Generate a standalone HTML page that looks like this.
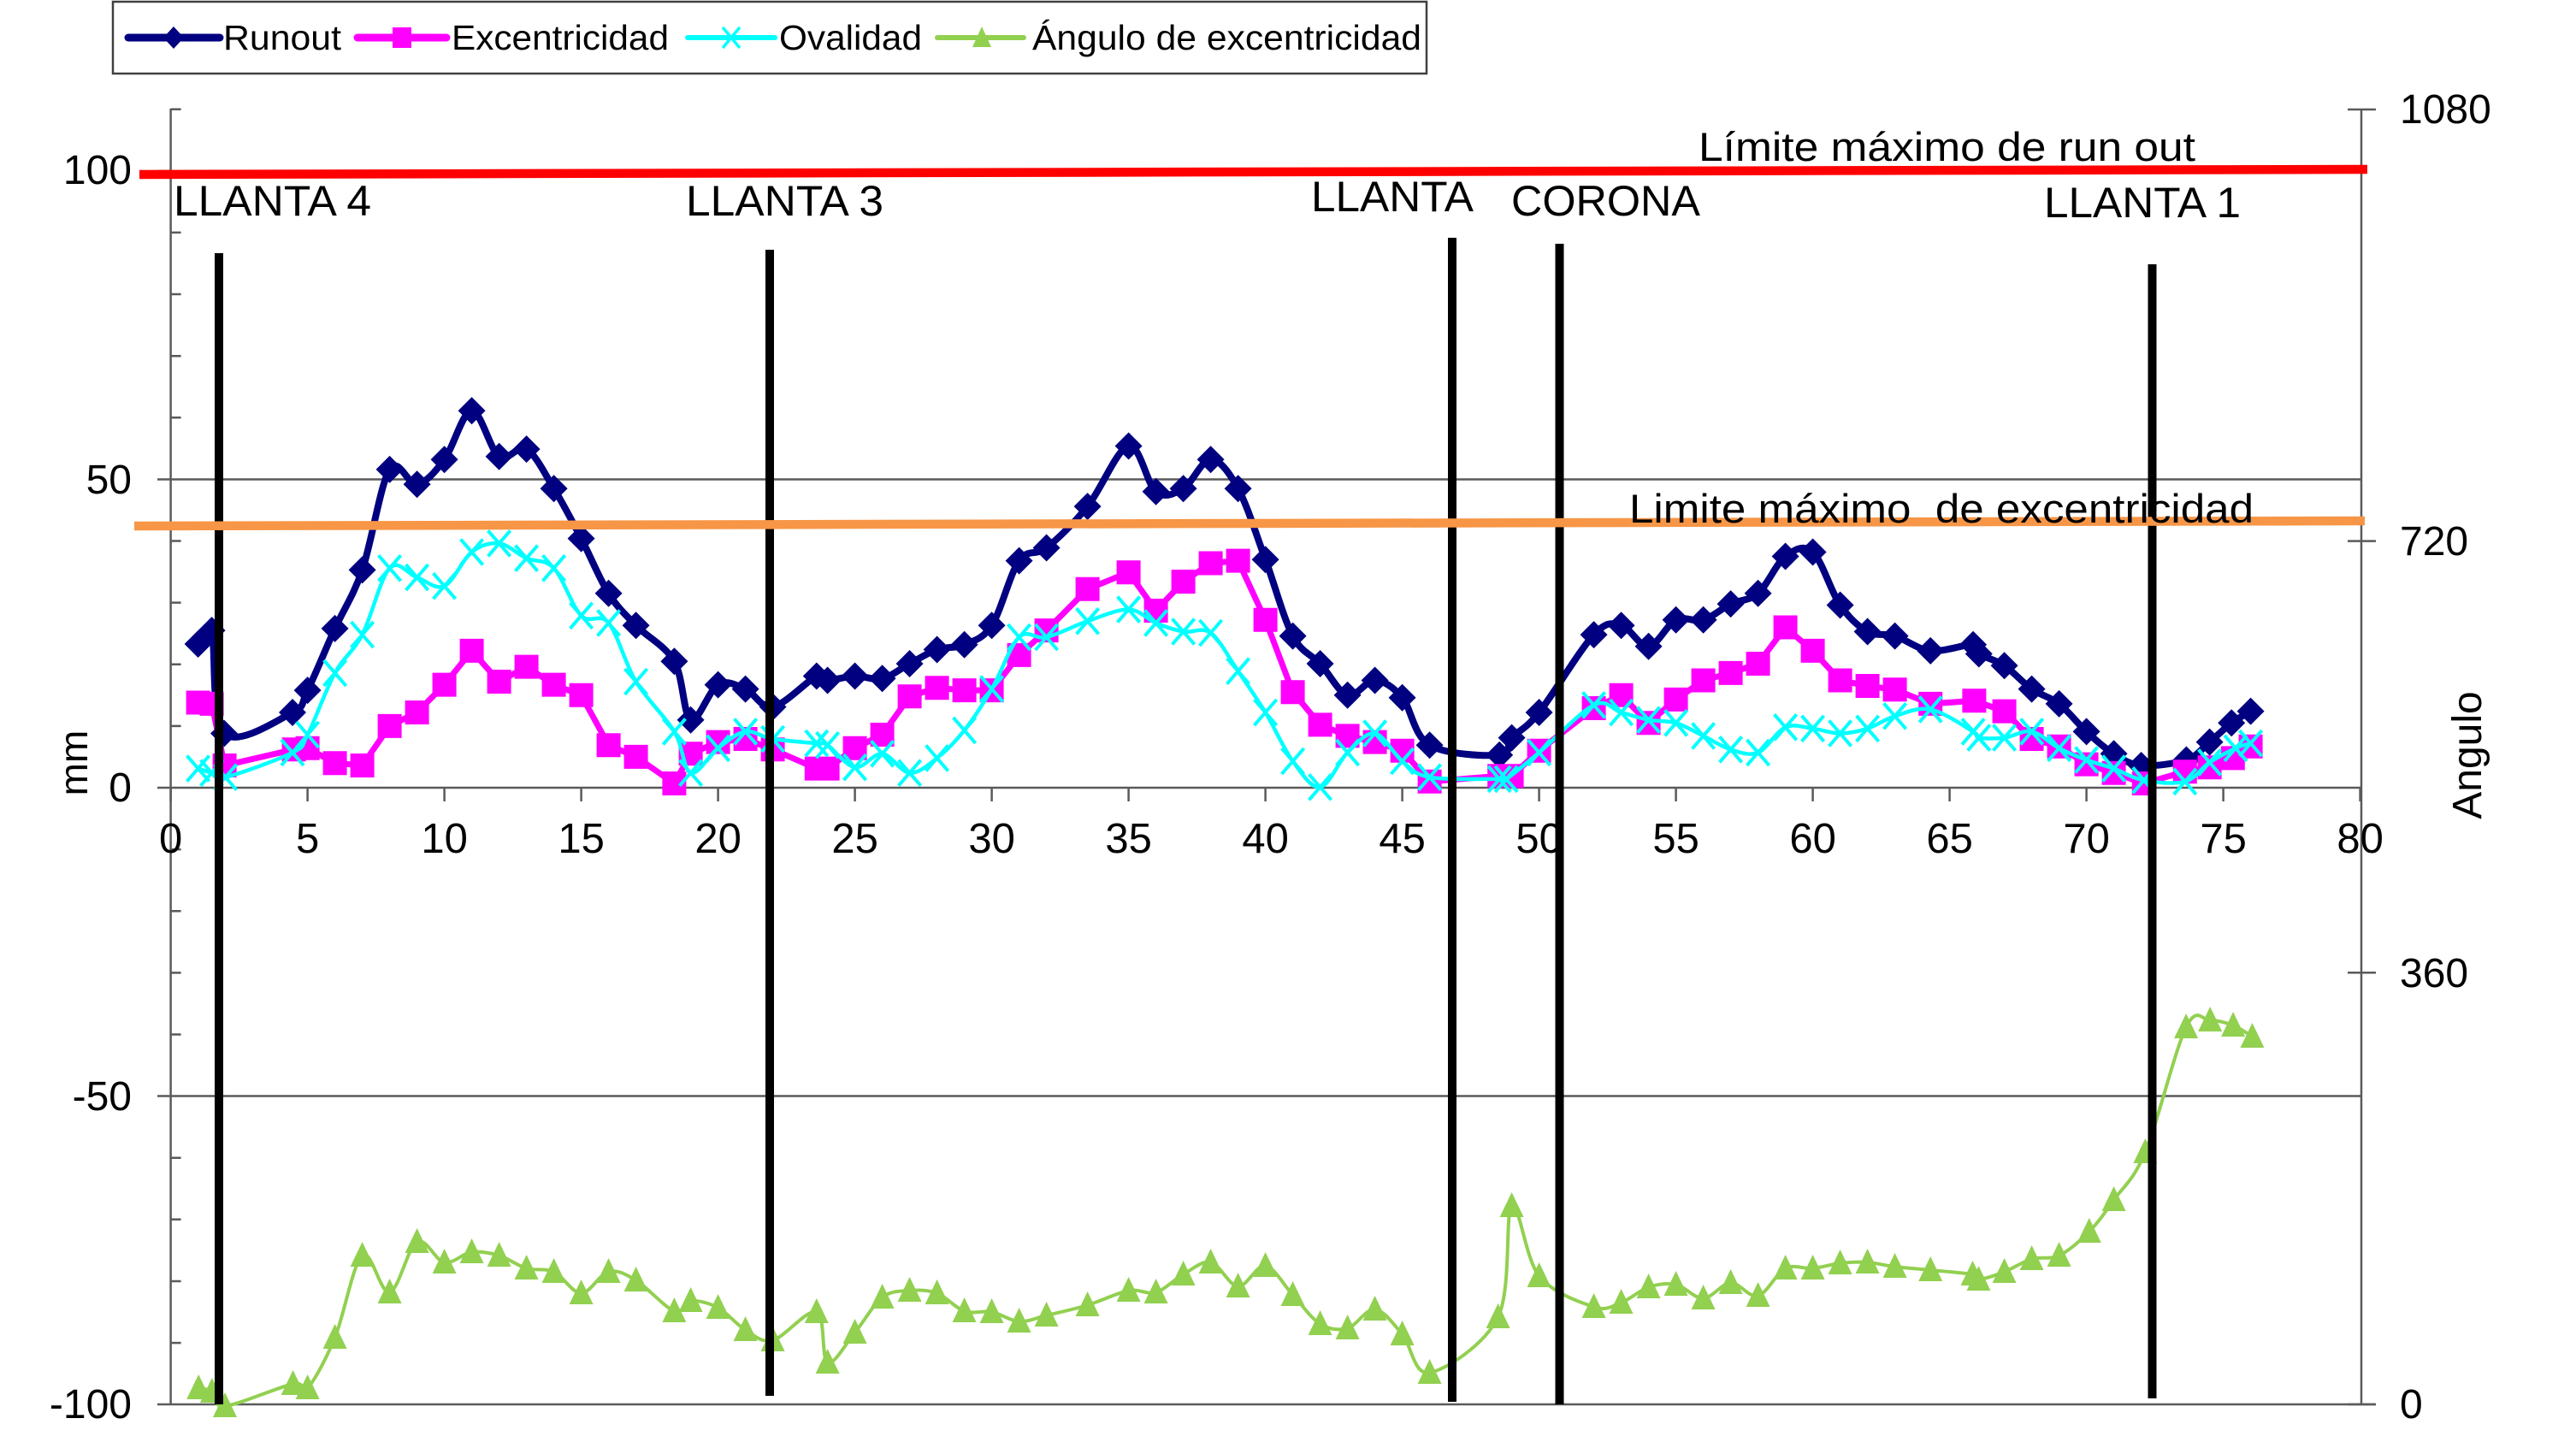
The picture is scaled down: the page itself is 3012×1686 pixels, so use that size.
<!DOCTYPE html>
<html><head><meta charset="utf-8">
<style>
html,body{margin:0;padding:0;background:#fff;}
svg{display:block;}
text{font-family:"Liberation Sans",Arial,sans-serif;fill:#000;}
</style></head><body>
<svg xmlns="http://www.w3.org/2000/svg" width="3012" height="1686" viewBox="0 0 3012 1686">
<rect width="3012" height="1686" fill="#fff"/>

<!-- Legend -->
<rect x="132" y="2" width="1536" height="84" fill="#fff" stroke="#404040" stroke-width="2.5"/>
<line x1="150" y1="44" x2="257" y2="44" stroke="#000080" stroke-width="9" stroke-linecap="round"/>
<path d="M203,31 L215,44 L203,57 L191,44 Z" fill="#000080"/>
<text x="261" y="58" font-size="41" textLength="138" lengthAdjust="spacingAndGlyphs">Runout</text>
<line x1="418" y1="44" x2="522" y2="44" stroke="#FF00FF" stroke-width="9" stroke-linecap="round"/>
<rect x="459" y="32" width="22" height="24" fill="#FF00FF"/>
<text x="528" y="58" font-size="41" textLength="254" lengthAdjust="spacingAndGlyphs">Excentricidad</text>
<line x1="804" y1="44" x2="906" y2="44" stroke="#00FFFF" stroke-width="6" stroke-linecap="round"/>
<path d="M845,32 L865,56 M865,32 L845,56" stroke="#00FFFF" stroke-width="3.5"/>
<text x="911" y="58" font-size="41" textLength="167" lengthAdjust="spacingAndGlyphs">Ovalidad</text>
<line x1="1096" y1="44" x2="1197" y2="44" stroke="#92D050" stroke-width="6" stroke-linecap="round"/>
<path d="M1148,31 L1159,55 L1137,55 Z" fill="#92D050"/>
<text x="1207" y="58" font-size="41" textLength="455" lengthAdjust="spacingAndGlyphs">Ángulo de excentricidad</text>

<!-- Gridlines & axes -->
<g stroke="#5a5a5a" stroke-width="2.5" fill="none">
<line x1="184" y1="560.5" x2="2761" y2="560.5"/>
<line x1="184" y1="921" x2="2761" y2="921"/>
<line x1="184" y1="1281.5" x2="2761" y2="1281.5"/>
<line x1="184" y1="1642" x2="2778" y2="1642"/>
<line x1="184" y1="200" x2="200" y2="200"/>
<line x1="199.6" y1="127" x2="199.6" y2="1642"/>
<line x1="2761" y1="127" x2="2761" y2="1642"/>
<path d="M199.6,127.7h12 M199.6,271.9h12 M199.6,344h12 M199.6,416.2h12 M199.6,488.3h12 M199.6,632.5h12 M199.6,704.6h12 M199.6,776.8h12 M199.6,848.9h12 M199.6,993.1h12 M199.6,1065.2h12 M199.6,1137.4h12 M199.6,1209.5h12 M199.6,1353.7h12 M199.6,1425.8h12 M199.6,1498h12 M199.6,1570.1h12"/>
<path d="M2745,128h33 M2745,632.6h33 M2745,1137.3h33 M2745,1642h33"/>
<path d="M199.6,921v16 M359.6,921v16 M519.6,921v16 M679.6,921v16 M839.6,921v16 M999.6,921v16 M1159.6,921v16 M1319.6,921v16 M1479.6,921v16 M1639.6,921v16 M1799.6,921v16 M1959.6,921v16 M2119.6,921v16 M2279.6,921v16 M2439.6,921v16 M2599.6,921v16 M2759.6,921v16"/>
</g>

<!-- Axis labels -->
<g font-size="48" text-anchor="end">
<text x="154" y="215">100</text>
<text x="154" y="577">50</text>
<text x="154" y="937">0</text>
<text x="154" y="1298">-50</text>
<text x="154" y="1658">-100</text>
</g>
<g font-size="48" text-anchor="start">
<text x="2806" y="144">1080</text>
<text x="2806" y="649">720</text>
<text x="2806" y="1154">360</text>
<text x="2806" y="1658">0</text>
</g>
<g font-size="49" text-anchor="middle">
<text x="199.6" y="997">0</text>
<text x="359.6" y="997">5</text>
<text x="519.6" y="997">10</text>
<text x="679.6" y="997">15</text>
<text x="839.6" y="997">20</text>
<text x="999.6" y="997">25</text>
<text x="1159.6" y="997">30</text>
<text x="1319.6" y="997">35</text>
<text x="1479.6" y="997">40</text>
<text x="1639.6" y="997">45</text>
<text x="1799.6" y="997">50</text>
<text x="1959.6" y="997">55</text>
<text x="2119.6" y="997">60</text>
<text x="2279.6" y="997">65</text>
<text x="2439.6" y="997">70</text>
<text x="2599.6" y="997">75</text>
<text x="2759.6" y="997">80</text>
</g>
<text transform="translate(102,892) rotate(-90)" font-size="46" text-anchor="middle">mm</text>
<text transform="translate(2901,883) rotate(-90)" font-size="48" text-anchor="middle">Angulo</text>

<!-- Series (generated) -->
<g id="series"></g>

<!-- Vertical black section lines -->
<g stroke="#000" stroke-width="10">
<line x1="256" y1="296" x2="256" y2="1642"/>
<line x1="900" y1="292" x2="900" y2="1632"/>
<line x1="1698" y1="278" x2="1698" y2="1639"/>
<line x1="1823.5" y1="285" x2="1823.5" y2="1642"/>
<line x1="2516.5" y1="309" x2="2516.5" y2="1635"/>
</g>

<!-- Limit lines -->
<line x1="157" y1="615" x2="2765" y2="609" stroke="#F79646" stroke-width="10.5"/>
<line x1="163" y1="204" x2="2768" y2="198" stroke="#FF0000" stroke-width="10.5"/>

<!-- Annotations -->
<g font-size="50">
<text x="203" y="252" textLength="231" lengthAdjust="spacingAndGlyphs">LLANTA 4</text>
<text x="802" y="252" textLength="231" lengthAdjust="spacingAndGlyphs">LLANTA 3</text>
<text x="1533" y="247" textLength="190" lengthAdjust="spacingAndGlyphs">LLANTA</text>
<text x="1767" y="252" textLength="221" lengthAdjust="spacingAndGlyphs">CORONA</text>
<text x="2390" y="254" textLength="230" lengthAdjust="spacingAndGlyphs">LLANTA 1</text>
</g>
<text x="1986" y="188" font-size="47" textLength="581" lengthAdjust="spacingAndGlyphs">Límite máximo de run out</text>
<text x="1905" y="611" font-size="47" xml:space="preserve" textLength="730" lengthAdjust="spacingAndGlyphs">Limite máximo  de excentricidad</text>
</svg>

<script>
(function(){
var NS="http://www.w3.org/2000/svg";
var g=document.getElementById("series");
function X(x){return 199.6+32*x;}
function Y(v){return 921-7.212*v;}
var R=[[1,23.3],[1.5,25.5],[1.95,8.8],[4.45,12.2],[5,15.8],[6,25.8],[7,35.3],[8,51.6],[9,49.2],[10,53.2],[11,61.1],[12,53.7],[13,54.9],[14,48.5],[15,40.4],[16,31.5],[17,26.3],[18.4,20.5],[19,11.0],[20,16.7],[21,16.0],[22,13.1],[23.6,18.1],[24,17.4],[25,18.1],[26,17.7],[27,20.1],[28,22.4],[29,23.2],[30,26.3],[31,36.8],[32,38.9],[33.5,45.6],[35,55.4],[36,48.0],[37,48.5],[38,53.2],[39,48.5],[40,37.0],[41,24.6],[42,20.1],[43,15.0],[44,17.4],[45,14.6],[46,6.9],[48.55,5.3],[49,8.1],[50,12.2],[52,24.8],[53,26.3],[54,22.9],[55,27.2],[56,27.2],[57,29.8],[58,31.5],[59,37.5],[60,38.2],[61,29.6],[62,25.3],[63,24.6],[64.3,22.2],[65.86,23.2],[66.07,21.7],[67,19.8],[68,16.0],[69,13.6],[70,9.1],[71,5.5],[72,3.6],[73.65,4.5],[74.5,7.4],[75.3,10.5],[76,12.4]];
var E=[[1,13.8],[1.5,13.6],[1.97,3.6],[4.5,6.2],[5,6.4],[6,4.0],[7,3.6],[8,10.0],[9,12.2],[10,16.7],[11,22.2],[12,17.2],[13,19.6],[14,16.7],[15,15.0],[16,6.9],[17,5.0],[18.4,0.7],[19,5.5],[20,7.4],[21,7.9],[22,6.2],[23.6,3.1],[24,3.1],[25,6.4],[26,8.6],[27,14.8],[28,16.2],[29,15.8],[30,15.8],[31,21.5],[32,25.5],[33.5,32.2],[35,34.9],[36,28.7],[37,33.4],[38,36.4],[39,36.8],[40,27.2],[41,15.5],[42,10.2],[43,8.4],[44,7.4],[45,6.0],[46,1.0],[48.55,1.9],[49,1.9],[50,6.0],[52,12.9],[53,15.0],[54,10.5],[55,14.3],[56,17.4],[57,18.6],[58,20.1],[59,26.0],[60,22.2],[61,17.4],[62,16.5],[63,15.9],[64.3,13.6],[65.9,14.1],[67,12.4],[68,7.9],[69,6.7],[70,3.8],[71,2.4],[72.1,0.7],[73.6,2.6],[74.5,3.3],[75.35,4.8],[76,6.7]];
var O=[[1,3.1],[1.5,2.4],[2,1.7],[4.45,5.7],[5,8.6],[6,18.6],[7,24.8],[8,35.6],[9,34.1],[10,32.7],[11,38.2],[12,39.6],[13,37.2],[14,35.6],[15,27.9],[16,26.7],[17,17.2],[18.4,9.1],[19,2.4],[20,6.4],[21,9.1],[22,7.9],[23.6,7.2],[24,6.9],[25,3.3],[26,5.5],[27,2.4],[28,4.8],[29,9.3],[30,16.0],[31,24.4],[32,24.4],[33.5,27.0],[35,28.9],[36,26.7],[37,25.3],[38,25.1],[39,18.9],[40,12.2],[41,4.3],[42,0.1],[43,5.7],[44,8.8],[45,4.3],[46,1.7],[48.55,1.4],[48.8,1.4],[50,5.7],[52,13.4],[53,12.2],[54,11.0],[55,10.5],[56,8.4],[57,6.2],[58,5.7],[59,9.8],[60,9.6],[61,8.8],[62,9.6],[63,11.6],[64.3,12.7],[65.86,9.1],[66.07,8.1],[67,8.1],[68,9.1],[69,6.4],[70,4.5],[71,3.1],[72.1,1.2],[73.6,1.0],[74.5,4.1],[75.45,6.4],[76,7.2]];
var G=[[1.02,1623],[1.51,1627],[1.98,1644],[4.47,1618],[5,1623],[6,1564],[7,1468],[8,1511],[9,1452],[10,1476],[11,1464],[12,1468],[13,1483],[14,1487],[15,1512],[16,1487],[17,1497],[18.4,1533],[19,1521],[20,1529],[21,1555],[22,1567],[23.6,1534],[24,1593],[25,1558],[26,1517],[27,1509],[28,1512],[29,1533],[30,1534],[31,1545],[32,1538],[33.5,1526],[35,1509],[36,1511],[37,1490],[38,1476],[39,1504],[40,1480],[41,1514],[42,1548],[43,1553],[44,1531],[45,1560],[46,1605],[48.5,1540],[49,1410],[50,1492],[52,1528],[53,1523],[54,1505],[55,1502],[56,1518],[57,1500],[58,1515],[59,1483],[60,1483],[61,1477],[62,1476],[63,1481],[64.3,1485],[65.84,1490],[66.06,1496],[67,1487],[68,1472],[69,1468],[70.1,1440],[71,1403],[72.15,1347],[73.64,1201],[74.52,1193],[75.36,1199],[76.06,1212]];

function toPx(a){return a.map(function(p){return [X(p[0]),Y(p[1])];});}
function toPxG(a){return a.map(function(p){return [X(p[0]),p[1]];});}
function smooth(p){
  var d="M"+p[0][0].toFixed(1)+","+p[0][1].toFixed(1);
  for(var i=0;i<p.length-1;i++){
    var p0=p[i-1]||p[i],p1=p[i],p2=p[i+1],p3=p[i+2]||p2;
    var c1x=p1[0]+(p2[0]-p0[0])/6,c1y=p1[1]+(p2[1]-p0[1])/6;
    var c2x=p2[0]-(p3[0]-p1[0])/6,c2y=p2[1]-(p3[1]-p1[1])/6;
    d+="C"+c1x.toFixed(1)+","+c1y.toFixed(1)+" "+c2x.toFixed(1)+","+c2y.toFixed(1)+" "+p2[0].toFixed(1)+","+p2[1].toFixed(1);
  }
  return d;
}
function straight(p){return "M"+p.map(function(q){return q[0].toFixed(1)+","+q[1].toFixed(1);}).join("L");}
function el(tag,attrs){var e=document.createElementNS(NS,tag);for(var k in attrs)e.setAttribute(k,attrs[k]);g.appendChild(e);return e;}

// Runout
var rp=toPx(R);
el("path",{d:smooth(rp),fill:"none",stroke:"#000080","stroke-width":"8","stroke-linejoin":"round"});
var dd="";rp.forEach(function(q){var x=q[0],y=q[1];dd+="M"+x.toFixed(1)+","+(y-16).toFixed(1)+"L"+(x+16).toFixed(1)+","+y.toFixed(1)+"L"+x.toFixed(1)+","+(y+16).toFixed(1)+"L"+(x-16).toFixed(1)+","+y.toFixed(1)+"Z";});
el("path",{d:dd,fill:"#000080"});

// Excentricidad
var ep=toPx(E);
el("path",{d:straight(ep),fill:"none",stroke:"#FF00FF","stroke-width":"7","stroke-linejoin":"round"});
var sd="";ep.forEach(function(q){var x=q[0]-14,y=q[1]-14;sd+="M"+x.toFixed(1)+","+y.toFixed(1)+"h28v28h-28Z";});
el("path",{d:sd,fill:"#FF00FF"});

// Ovalidad
var op=toPx(O);
el("path",{d:smooth(op),fill:"none",stroke:"#00FFFF","stroke-width":"4.5","stroke-linejoin":"round"});
var xd="";op.forEach(function(q){var x=q[0],y=q[1];xd+="M"+(x-13).toFixed(1)+","+(y-15).toFixed(1)+"L"+(x+13).toFixed(1)+","+(y+15).toFixed(1)+"M"+(x+13).toFixed(1)+","+(y-15).toFixed(1)+"L"+(x-13).toFixed(1)+","+(y+15).toFixed(1);});
el("path",{d:xd,fill:"none",stroke:"#00FFFF","stroke-width":"4"});

// Angulo
var gp=toPxG(G);
el("path",{d:smooth(gp),fill:"none",stroke:"#92D050","stroke-width":"4","stroke-linejoin":"round"});
var td="";gp.forEach(function(q){var x=q[0],y=q[1];td+="M"+x.toFixed(1)+","+(y-16).toFixed(1)+"L"+(x+14).toFixed(1)+","+(y+13).toFixed(1)+"L"+(x-14).toFixed(1)+","+(y+13).toFixed(1)+"Z";});
el("path",{d:td,fill:"#92D050"});
})();
</script>
</body></html>
